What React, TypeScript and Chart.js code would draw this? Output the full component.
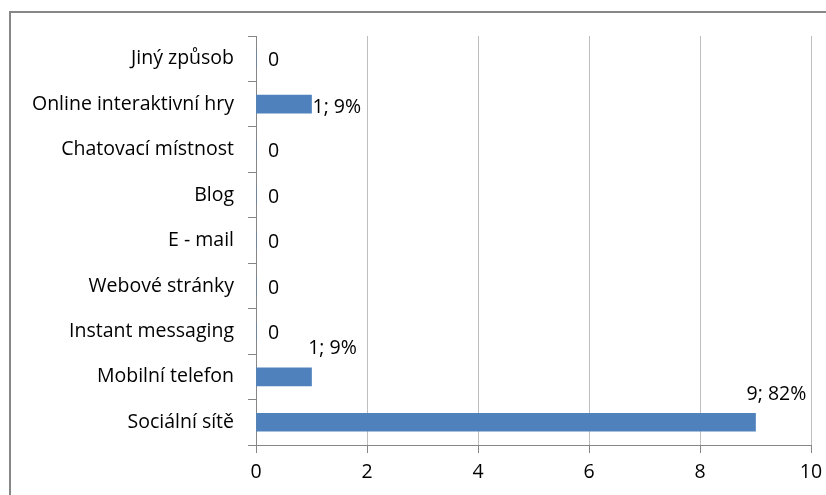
import React, { useEffect, useRef } from "react";
import { Chart, registerables } from "chart.js";

Chart.register(...registerables);

const categories = [
  "Jiný způsob",
  "Online interaktivní hry",
  "Chatovací místnost",
  "Blog",
  "E - mail",
  "Webové stránky",
  "Instant messaging",
  "Mobilní telefon",
  "Sociální sítě",
];
const values = [0, 1, 0, 0, 0, 0, 0, 1, 9];
const labelPlacement = ["zero", "right", "zero", "zero", "zero", "zero", "zero", "above", "above"];
const xTicks = [0, 2, 4, 6, 8, 10];

const FONT = "'Open Sans'";
const FSIZE = 19.5;
const BAR = "#4F81BD";

const labelPlugin = {
  id: "valueLabels",
  afterDatasetsDraw(chart: any) {
    const ctx = chart.ctx;
    const meta = chart.getDatasetMeta(0);
    const xs = chart.scales.x;
    const total = values.reduce((a, b) => a + b, 0);
    ctx.save();
    ctx.font = `${FSIZE}px ${FONT}`;
    ctx.fillStyle = "#000";
    meta.data.forEach((bar: any, i: number) => {
      const v = values[i];
      const xEnd = xs.getPixelForValue(v);
      const y = bar.y;
      const text = v === 0 ? "0" : `${v}; ${Math.round((v / total) * 100)}%`;
      const mode = labelPlacement[i];
      ctx.textBaseline = "middle";
      if (mode === "zero") {
        ctx.textAlign = "left";
        ctx.fillText(text, xEnd + 12, y + 2);
      } else if (mode === "right") {
        ctx.textAlign = "left";
        ctx.fillText(text, xEnd + 1, y + 3);
      } else {
        ctx.textAlign = "center";
        ctx.fillText(text, xEnd + 21, y - 28);
      }
    });
    ctx.restore();
  },
};

export default function App() {
  const ref = useRef<HTMLCanvasElement | null>(null);
  useEffect(() => {
    if (!ref.current) return;
    const chart = new Chart(ref.current, {
      type: "bar",
      data: {
        labels: categories,
        datasets: [
          {
            data: values,
            backgroundColor: BAR,
            borderWidth: 0,
            barThickness: 18,
          },
        ],
      },
      options: {
        indexAxis: "y",
        animation: false,
        responsive: false,
        maintainAspectRatio: false,
        devicePixelRatio: 1,
        layout: { padding: { left: 0, right: 15, top: 36, bottom: 0 } },
        plugins: { legend: { display: false }, tooltip: { enabled: false } },
        scales: {
          x: {
            min: 0,
            max: 10,
            afterBuildTicks: (scale: any) => {
              scale.ticks = xTicks.map((v) => ({ value: v }));
            },
            afterFit: (scale: any) => {
              scale.height = 50;
              scale.paddingRight = 0;
            },
            grid: {
              color: "#BEBEBE",
              tickColor: "#868686",
              tickLength: 8,
              lineWidth: 1,
            },
            border: { display: true, color: "#868686", width: 1 },
            ticks: {
              color: "#000",
              font: { family: FONT, size: FSIZE },
              padding: 8,
            },
          },
          y: {
            afterFit: (scale: any) => {
              scale.width = 256;
            },
            grid: {
              offset: true,
              drawOnChartArea: false,
              tickColor: "#868686",
              tickLength: 8,
            },
            border: { display: true, color: "#868686", width: 1 },
            ticks: {
              color: "#000",
              font: { family: FONT, size: FSIZE },
              padding: 14,
            },
          },
        },
      },
      plugins: [labelPlugin],
    });
    return () => chart.destroy();
  }, []);
  return (
    <div style={{ position: "fixed", left: 0, top: 0, width: 826, height: 495, background: "#fff", overflow: "hidden" }}>
      <canvas ref={ref} width={826} height={495} style={{ position: "absolute", left: 0, top: 0 }} />
      <div
        style={{
          position: "absolute",
          left: 9,
          top: 11,
          width: 900,
          height: 600,
          borderTop: "2px solid #878787",
          borderLeft: "2px solid #878787",
          pointerEvents: "none",
        }}
      />
    </div>
  );
}
